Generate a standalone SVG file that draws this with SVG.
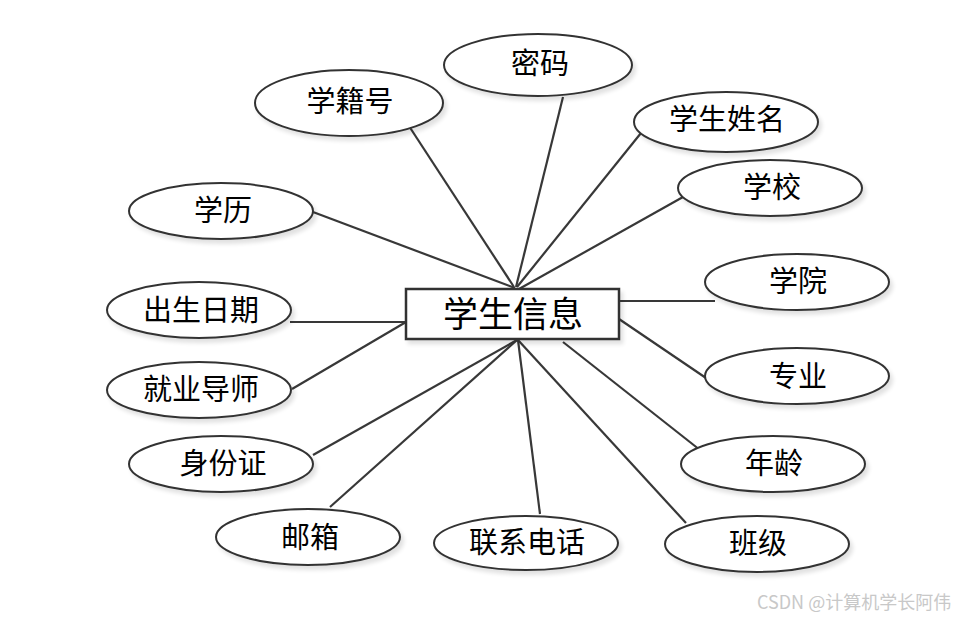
<svg xmlns="http://www.w3.org/2000/svg" width="964" height="620" viewBox="0 0 964 620">
<defs>
<filter id="sh" x="-20%" y="-30%" width="140%" height="160%">
<feGaussianBlur in="SourceAlpha" stdDeviation="2"/>
<feOffset dx="3" dy="4" result="b"/>
<feComponentTransfer><feFuncA type="linear" slope="0.12"/></feComponentTransfer>
<feMerge><feMergeNode/><feMergeNode in="SourceGraphic"/></feMerge>
</filter>
</defs>
<style>
.e{fill:#fff;stroke:#333;stroke-width:2;filter:url(#sh)}
.r{fill:#fff;stroke:#333;stroke-width:2.5;filter:url(#sh)}
.t{font-family:"Noto Sans CJK SC","Noto Sans CJK JP",sans-serif;font-size:29px;fill:#000;text-anchor:middle;dominant-baseline:central}
.c{font-size:35px}
.l{stroke:#383838;stroke-width:2.2;fill:none}
.w{font-family:"Noto Sans CJK SC","Liberation Sans",sans-serif;font-size:18px;fill:#c8c8c8}
</style>
<rect width="964" height="620" fill="#fff"/>
<g id="connectors">
<line class="l" x1="392" y1="100" x2="514" y2="287"/>
<line class="l" x1="563" y1="97" x2="516" y2="287"/>
<line class="l" x1="641" y1="133" x2="517" y2="287" stroke="#000"/>
<line class="l" x1="683" y1="197" x2="519" y2="289"/>
<line class="l" x1="313" y1="212" x2="515" y2="288"/>
<line class="l" x1="619" y1="301" x2="715" y2="301"/>
<line class="l" x1="290" y1="322" x2="406" y2="322"/>
<line class="l" x1="292" y1="389" x2="406" y2="322"/>
<line class="l" x1="619" y1="319" x2="706" y2="378"/>
<line class="l" x1="313" y1="455" x2="517" y2="340"/>
<line class="l" x1="330" y1="507" x2="517" y2="340"/>
<line class="l" x1="540" y1="514" x2="518" y2="340"/>
<line class="l" x1="686" y1="523" x2="518" y2="340"/>
<line class="l" x1="700" y1="450" x2="563" y2="342"/>
</g>
<g id="n_center"><rect class="r" x="406" y="289" width="213" height="50"/><text class="t c" x="513" y="311">学生信息</text></g>
<g id="n_mima"><ellipse class="e" cx="538" cy="65" rx="94" ry="31"/><text class="t" x="540" y="61">密码</text></g>
<g id="n_xuejihao"><ellipse class="e" cx="349" cy="103" rx="94" ry="33"/><text class="t" x="350" y="99">学籍号</text></g>
<g id="n_xingming"><ellipse class="e" cx="726" cy="122" rx="92" ry="30"/><text class="t" x="727" y="117">学生姓名</text></g>
<g id="n_xuexiao"><ellipse class="e" cx="770" cy="188" rx="92" ry="28"/><text class="t" x="772" y="185">学校</text></g>
<g id="n_xueli"><ellipse class="e" cx="221" cy="211" rx="92" ry="28"/><text class="t" x="223" y="208">学历</text></g>
<g id="n_xueyuan"><ellipse class="e" cx="797" cy="282" rx="92" ry="28"/><text class="t" x="798" y="279">学院</text></g>
<g id="n_chusheng"><ellipse class="e" cx="199" cy="310" rx="92" ry="28"/><text class="t" x="201" y="308">出生日期</text></g>
<g id="n_zhuanye"><ellipse class="e" cx="797" cy="376" rx="92" ry="28"/><text class="t" x="798" y="374">专业</text></g>
<g id="n_daoshi"><ellipse class="e" cx="199" cy="390" rx="92" ry="28"/><text class="t" x="201" y="387">就业导师</text></g>
<g id="n_shenfen"><ellipse class="e" cx="221" cy="464" rx="92" ry="28"/><text class="t" x="223" y="461">身份证</text></g>
<g id="n_nianling"><ellipse class="e" cx="773" cy="464" rx="92" ry="28"/><text class="t" x="774" y="461">年龄</text></g>
<g id="n_youxiang"><ellipse class="e" cx="308" cy="537" rx="92" ry="28"/><text class="t" x="310" y="535">邮箱</text></g>
<g id="n_dianhua"><ellipse class="e" cx="526" cy="543" rx="92" ry="27"/><text class="t" x="527" y="540">联系电话</text></g>
<g id="n_banji"><ellipse class="e" cx="757" cy="544" rx="92" ry="28"/><text class="t" x="758" y="541">班级</text></g>
<text class="w" x="757" y="609">CSDN @计算机学长阿伟</text>
</svg>
